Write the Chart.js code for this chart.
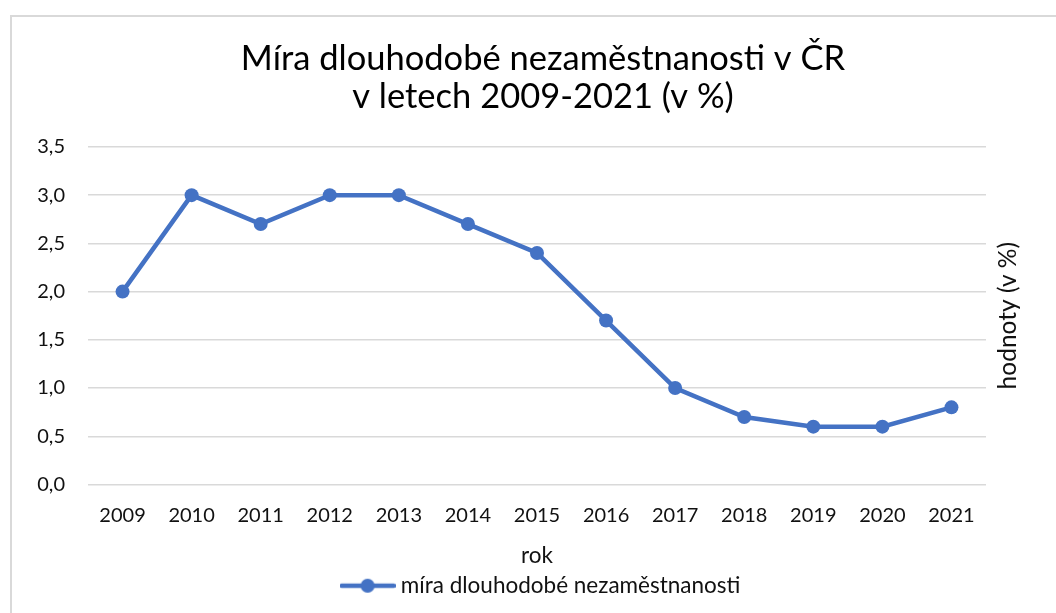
<!DOCTYPE html>
<html>
<head>
<meta charset="utf-8">
<script src="https://cdn.jsdelivr.net/npm/chart.js@4"></script>
<style>
  html, body { margin: 0; padding: 0; background: #fff; overflow: hidden; }
  #frame { position: absolute; left: 10px; top: 15px; width: 1100px; height: 700px; border: 2px solid #d9d9d9; box-sizing: border-box; }
  #wrap { position: absolute; left: 0; top: 0; width: 1056px; height: 613px; }
</style>
</head>
<body>
<div id="frame"></div>
<div id="wrap"><canvas id="c" width="1056" height="613"></canvas></div>
<script>
const categories = ['2009','2010','2011','2012','2013','2014','2015','2016','2017','2018','2019','2020','2021'];
const values = [2.0, 3.0, 2.7, 3.0, 3.0, 2.7, 2.4, 1.7, 1.0, 0.7, 0.6, 0.6, 0.8];
const seriesName = 'míra dlouhodobé nezaměstnanosti';
const titleLines = ['Míra dlouhodobé nezaměstnanosti v ČR', 'v letech 2009-2021 (v %)'];
const xTitle = 'rok';
const yTitle = 'hodnoty (v %)';
const yTicks = [0, 0.5, 1.0, 1.5, 2.0, 2.5, 3.0, 3.5];

const FONT = 'Lato';
const BLUE = '#4472C4';
const TXT = '#111';

// legend marker: line with a dot
const marker = document.createElement('canvas');
marker.width = 56; marker.height = 16;
(function(){
  const g = marker.getContext('2d');
  g.strokeStyle = BLUE; g.lineWidth = 4.5; g.lineCap = 'round';
  g.beginPath(); g.moveTo(2, 8); g.lineTo(54, 8); g.stroke();
  g.fillStyle = BLUE; g.beginPath(); g.arc(28, 8, 7, 0, Math.PI*2); g.fill();
})();

const rightTitle = {
  id: 'rightTitle',
  afterDraw(chart) {
    const ctx = chart.ctx, a = chart.chartArea;
    ctx.save();
    ctx.translate(1008, (a.top + a.bottom) / 2);
    ctx.rotate(-Math.PI / 2);
    ctx.font = '24.5px ' + FONT;
    ctx.fillStyle = TXT;
    ctx.textAlign = 'center';
    ctx.textBaseline = 'middle';
    ctx.fillText(yTitle, 0, 0);
    ctx.restore();
  }
};

new Chart(document.getElementById('c'), {
  type: 'line',
  data: {
    labels: categories,
    datasets: [{
      label: seriesName,
      data: values,
      yAxisID: 'y',
      borderColor: BLUE,
      backgroundColor: BLUE,
      borderWidth: 4.5,
      pointRadius: 7,
      pointHoverRadius: 7,
      pointBackgroundColor: BLUE,
      pointBorderWidth: 0,
      tension: 0,
      pointStyle: 'circle'
    }]
  },
  options: {
    responsive: false,
    animation: false,
    layout: { padding: { left: 30, right: 0, top: 0, bottom: 6 } },
    plugins: {
      title: {
        display: true,
        text: titleLines,
        color: '#000',
        font: { family: FONT, size: 34.5, weight: 'normal', lineHeight: 1.1 },
        padding: { top: 40, bottom: 31 }
      },
      legend: {
        display: true,
        position: 'bottom',
        labels: {
          usePointStyle: true,
          pointStyle: marker,
          pointStyleWidth: 44,
          color: TXT,
          font: { family: FONT, size: 22.5 },
          padding: 4,
          boxHeight: 16
        }
      },
      tooltip: { enabled: false }
    },
    scales: {
      x: {
        offset: true,
        afterFit(s) { s.height = 86; },
        grid: { display: false, drawTicks: false },
        border: { display: false },
        ticks: { color: TXT, font: { family: FONT, size: 20 }, padding: 19, maxRotation: 0 },
        title: { display: true, text: xTitle, color: TXT, font: { family: FONT, size: 22.5 }, padding: { top: 6, bottom: 1 } }
      },
      y: {
        position: 'left',
        min: 0, max: 3.5,
        afterFit(s) { s.width = 58; },
        afterBuildTicks(s) { s.ticks = yTicks.map(v => ({ value: v })); },
        grid: { color: '#d9d9d9', lineWidth: 1.5, drawTicks: false },
        border: { display: false },
        ticks: {
          color: TXT, font: { family: FONT, size: 20 }, padding: 23,
          callback: v => v.toFixed(1).replace('.', ',')
        }
      },
      y2: {
        position: 'right',
        min: 0, max: 1,
        afterFit(s) { s.width = 70; },
        grid: { display: false, drawTicks: false },
        border: { display: false },
        ticks: { display: false }
      }
    }
  },
  plugins: [rightTitle]
});
</script>
</body>
</html>
